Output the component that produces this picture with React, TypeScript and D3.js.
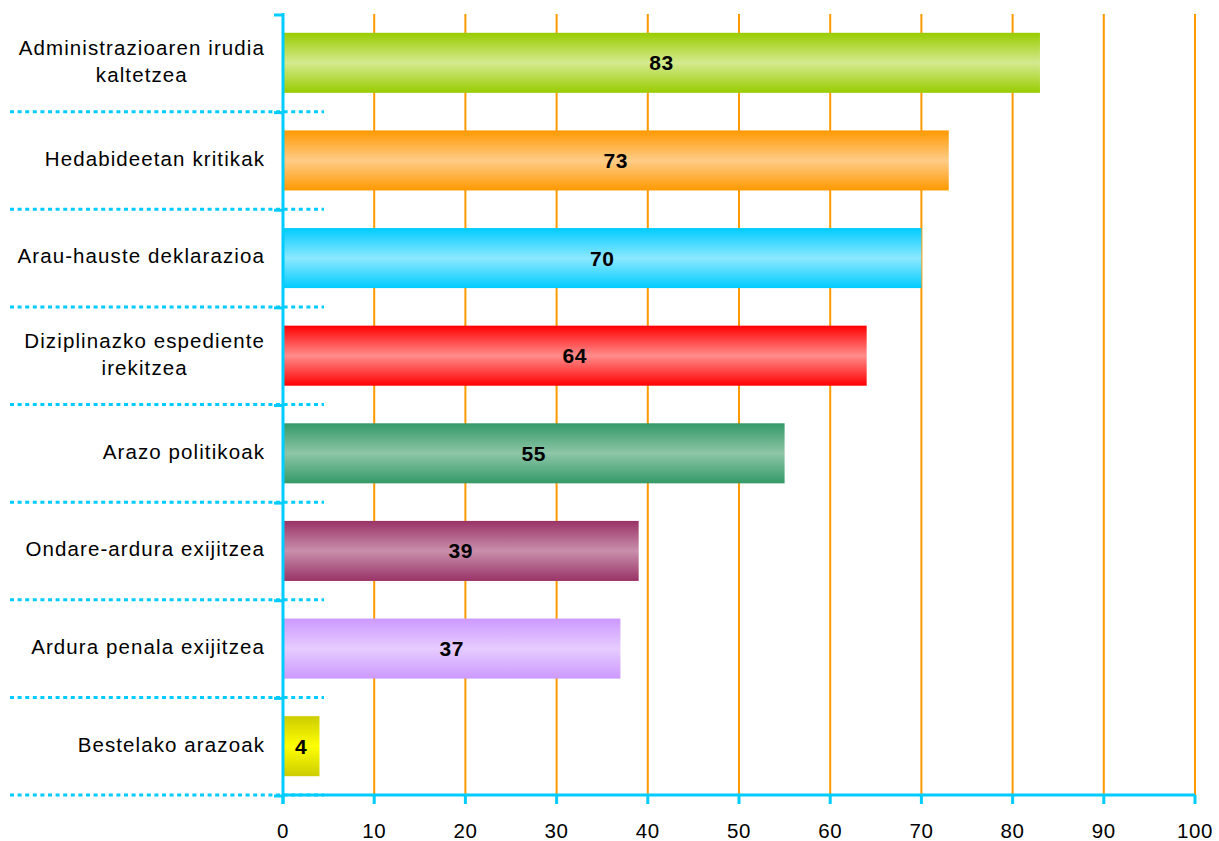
import React, { useRef, useEffect } from 'react';
import * as d3 from 'd3';

const categories = [
  'Administrazioaren irudia|kaltetzea',
  'Hedabideetan kritikak',
  'Arau-hauste deklarazioa',
  'Diziplinazko espediente|irekitzea',
  'Arazo politikoak',
  'Ondare-ardura exijitzea',
  'Ardura penala exijitzea',
  'Bestelako arazoak',
];
const values = [83, 73, 70, 64, 55, 39, 37, 4];
const edgeColors = ['#99cc00', '#ff9900', '#00ccff', '#ff0000', '#339966', '#993366', '#cc99ff', '#cccc00'];
const midColors = ['#d4ea8f', '#ffcc88', '#8ce8ff', '#ff8c8c', '#8ec6a8', '#c98fac', '#e6ccff', '#ffff00'];
const xTicks = [0, 10, 20, 30, 40, 50, 60, 70, 80, 90, 100];

const W = 1219;
const H = 841;
const left = 283;
const right = 1195;
const top = 14;
const bottom = 795;
const AXIS = '#00ccff';
const GRID = '#ff9900';
const FONT = 'Arial, "Liberation Sans", sans-serif';

const App = () => {
  const ref = useRef<SVGSVGElement>(null);

  useEffect(() => {
    const svg = d3.select(ref.current);
    svg.selectAll('*').remove();

    const x = d3.scaleLinear().domain([0, 100]).range([left, right]);
    const y = d3
      .scaleBand<number>()
      .domain(d3.range(categories.length))
      .range([top, bottom])
      .paddingInner(0.385)
      .paddingOuter(0.1925);
    const step = y.step();
    const bandTop = (i: number) => top + i * step;

    const defs = svg.append('defs');
    values.forEach((v, i) => {
      const g = defs
        .append('linearGradient')
        .attr('id', 'grad' + i)
        .attr('x1', 0)
        .attr('y1', 0)
        .attr('x2', 0)
        .attr('y2', 1);
      g.append('stop').attr('offset', '0%').attr('stop-color', edgeColors[i]);
      g.append('stop').attr('offset', '50%').attr('stop-color', midColors[i]);
      g.append('stop').attr('offset', '100%').attr('stop-color', edgeColors[i]);
    });

    // gridlines
    svg
      .append('g')
      .selectAll('line')
      .data(xTicks.filter(t => t > 0))
      .join('line')
      .attr('x1', d => x(d))
      .attr('x2', d => x(d))
      .attr('y1', top)
      .attr('y2', bottom)
      .attr('stroke', GRID)
      .attr('stroke-width', 2);

    // bars
    svg
      .append('g')
      .selectAll('rect')
      .data(values)
      .join('rect')
      .attr('x', x(0))
      .attr('y', (d, i) => y(i)!)
      .attr('width', d => x(d) - x(0))
      .attr('height', y.bandwidth())
      .attr('fill', (d, i) => `url(#grad${i})`);

    // value labels
    svg
      .append('g')
      .selectAll('text')
      .data(values)
      .join('text')
      .attr('x', d => (x(d) + x(0)) / 2)
      .attr('y', (d, i) => y(i)! + y.bandwidth() / 2)
      .attr('dy', '0.36em')
      .attr('text-anchor', 'middle')
      .attr('font-family', FONT)
      .attr('font-weight', 'bold')
      .attr('font-size', 21)
      .attr('letter-spacing', 0.6)
      .text(d => d);

    // dotted separators
    svg
      .append('g')
      .selectAll('line')
      .data(d3.range(1, categories.length + 1))
      .join('line')
      .attr('x1', 10)
      .attr('x2', 324)
      .attr('y1', d => bandTop(d))
      .attr('y2', d => bandTop(d))
      .attr('stroke', AXIS)
      .attr('stroke-width', 3)
      .attr('stroke-dasharray', '4,3.6');

    // y axis ticks
    svg
      .append('g')
      .selectAll('line')
      .data(d3.range(0, categories.length + 1))
      .join('line')
      .attr('x1', left - 9)
      .attr('x2', left)
      .attr('y1', d => bandTop(d) + 1)
      .attr('y2', d => bandTop(d) + 1)
      .attr('stroke', AXIS)
      .attr('stroke-width', 3);

    // x axis
    svg
      .append('line')
      .attr('x1', left)
      .attr('x2', right)
      .attr('y1', bottom)
      .attr('y2', bottom)
      .attr('stroke', AXIS)
      .attr('stroke-width', 3);
    svg
      .append('g')
      .selectAll('line')
      .data(xTicks)
      .join('line')
      .attr('x1', d => x(d))
      .attr('x2', d => x(d))
      .attr('y1', bottom)
      .attr('y2', bottom + 9)
      .attr('stroke', AXIS)
      .attr('stroke-width', 3);
    svg
      .append('g')
      .selectAll('text')
      .data(xTicks)
      .join('text')
      .attr('x', d => x(d))
      .attr('y', 838)
      .attr('text-anchor', 'middle')
      .attr('font-family', FONT)
      .attr('font-size', 20.5)
      .attr('letter-spacing', 0.6)
      .text(d => d);

    // y axis line
    svg
      .append('line')
      .attr('x1', left)
      .attr('x2', left)
      .attr('y1', top - 1)
      .attr('y2', bottom + 9)
      .attr('stroke', AXIS)
      .attr('stroke-width', 3);

    // category labels
    const labelRight = 264;
    categories.forEach((c, i) => {
      const lines = c.split('|');
      const cy = bandTop(i) + step / 2 - 2;
      const lh = 27;
      const texts = svg
        .append('g')
        .selectAll('text')
        .data(lines)
        .join('text')
        .attr('y', (d, j) => cy + (j - (lines.length - 1) / 2) * lh)
        .attr('dy', '0.36em')
        .attr('font-family', FONT)
        .attr('font-size', 20.5)
        .attr('letter-spacing', 1.1)
        .attr('text-anchor', 'middle')
        .text(d => d);
      const widths = texts.nodes().map(n => (n as SVGTextElement).getComputedTextLength());
      const maxW = d3.max(widths) || 0;
      texts.attr('x', labelRight - maxW / 2 + 1);
    });
  }, []);

  return <svg ref={ref} width={W} height={H} style={{ display: 'block', position: 'absolute', left: 0, top: 0 }} />;
};

export default App;
